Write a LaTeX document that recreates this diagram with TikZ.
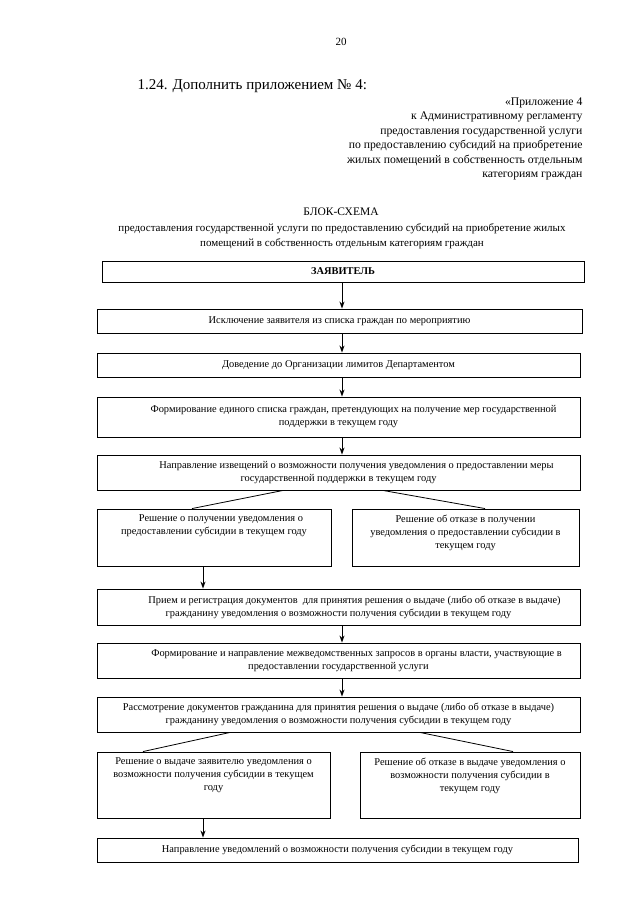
\documentclass[tikz,border=0pt]{standalone}
\usepackage{fontspec}
\setmainfont{Liberation Serif}
\usetikzlibrary{arrows.meta,calc}
\begin{document}
\begin{tikzpicture}[x=1pt,y=-1pt,
  box/.style={draw,line width=0.9pt,inner sep=0pt,minimum height=#1},
  box/.default=24pt,
  txt/.style={align=center,font=\fontsize{10.4}{13}\selectfont,inner sep=0pt},
  arr/.style={line width=0.9pt,-{Stealth[length=7pt,width=5pt]}},
  ln/.style={line width=0.8pt}]
\useasboundingbox (0,0) rectangle (640,905);
% header
\node[font=\fontsize{11}{13}\selectfont] (pg) at (341,42) {20};
\node[font=\fontsize{15}{17}\selectfont,anchor=west] (item) at (134,86) {1.24. Дополнить приложением № 4:};
\node[font=\fontsize{11.7}{14.5}\selectfont,align=right,anchor=north east] (app) at (586,94) {«Приложение 4\\к Административному регламенту\\предоставления государственной услуги\\по предоставлению субсидий на приобретение\\жилых помещений в собственность отдельным\\категориям граждан};
\node[font=\fontsize{11.5}{14}\selectfont] (ttl) at (341,212) {БЛОК-СХЕМА};
\node[font=\fontsize{11}{14.5}\selectfont,align=center] (sub) at (342,236) {предоставления государственной услуги по предоставлению субсидий на приобретение жилых\\помещений в собственность отдельным категориям граждан};
% boxes
\node[box=21pt,minimum width=482pt] (b1) at (343,271.5) {};
\node[txt,font=\fontsize{10.4}{13}\selectfont\bfseries] (t1) at (b1) {ЗАЯВИТЕЛЬ};
\node[box=24pt,minimum width=485pt] (b2) at (339.5,321) {};
\node[txt] (t2) at (b2) {Исключение заявителя из списка граждан по мероприятию};
\node[box=24pt,minimum width=483pt] (b3) at (338.5,365) {};
\node[txt] (t3) at (b3) {Доведение до Организации лимитов Департаментом};
\node[box=40pt,minimum width=483pt] (b4) at (338.5,417) {};
\node[txt] (t4) at (b4) {\hspace*{30pt}Формирование единого списка граждан, претендующих на получение мер государственной\\поддержки в текущем году};
\node[box=35pt,minimum width=483pt] (b5) at (338.5,472.5) {};
\node[txt] (t5) at (b5) {\hspace*{36pt}Направление извещений о возможности получения уведомления о предоставлении меры\\государственной поддержки в текущем году};
\node[box=57pt,minimum width=234pt] (b6) at (214,537.5) {};
\node[txt,anchor=north] (t6) at ($(b6.north)+(0,6)$) {\hspace*{14pt}Решение о получении уведомления о\\предоставлении субсидии в текущем году};
\node[box=57pt,minimum width=227pt] (b7) at (465.5,537.5) {};
\node[txt,anchor=north] (t7) at ($(b7.north)+(0,6)$) {Решение об отказе в получении\\уведомления о предоставлении субсидии в\\текущем году};
\node[box=36pt,minimum width=483pt] (b8) at (338.5,607) {};
\node[txt] (t8) at (b8) {\hspace*{32pt}Прием и регистрация документов\ \ для принятия решения о выдаче (либо об отказе в выдаче)\\гражданину уведомления о возможности получения субсидии в текущем году};
\node[box=35pt,minimum width=483pt] (b9) at (338.5,660.5) {};
\node[txt] (t9) at (b9) {\hspace*{36pt}Формирование и направление межведомственных запросов в органы власти, участвующие в\\предоставлении государственной услуги};
\node[box=35pt,minimum width=483pt] (b10) at (338.5,714.5) {};
\node[txt] (t10) at (b10) {Рассмотрение документов гражданина для принятия решения о выдаче (либо об отказе в выдаче)\\гражданину уведомления о возможности получения субсидии в текущем году};
\node[box=66pt,minimum width=233pt] (b11) at (213.5,785) {};
\node[txt,anchor=north] (t11) at ($(b11.north)+(0,6)$) {Решение о выдаче заявителю уведомления о\\возможности получения субсидии в текущем\\году};
\node[box=66pt,minimum width=220pt] (b12) at (470,785) {};
\node[txt,anchor=north] (t12) at ($(b12.north)+(0,6)$) {Решение об отказе в выдаче уведомления о\\возможности получения субсидии в\\текущем году};
\node[box=24pt,minimum width=481pt] (b13) at (337.5,850) {};
\node[txt] (t13) at (b13) {Направление уведомлений о возможности получения субсидии в текущем году};
% connector x positions
\coordinate (ax) at (342,0);
\coordinate (lx) at (203,0);
\coordinate (d1) at (283,0);
\coordinate (d2) at (192,0);
\coordinate (d3) at (383,0);
\coordinate (d4) at (485,0);
\coordinate (d5) at (230,0);
\coordinate (d6) at (143,0);
\coordinate (d7) at (420,0);
\coordinate (d8) at (513,0);
% arrows
\draw[arr] (b1.south -| ax) -- (b2.north -| ax);
\draw[arr] (b2.south -| ax) -- (b3.north -| ax);
\draw[arr] (b3.south -| ax) -- (b4.north -| ax);
\draw[arr] (b4.south -| ax) -- (b5.north -| ax);
\draw[ln] (b5.south -| d1) -- (b6.north -| d2);
\draw[ln] (b5.south -| d3) -- (b7.north -| d4);
\draw[arr] (b6.south -| lx) -- (b8.north -| lx);
\draw[arr] (b8.south -| ax) -- (b9.north -| ax);
\draw[arr] (b9.south -| ax) -- (b10.north -| ax);
\draw[ln] (b10.south -| d5) -- (b11.north -| d6);
\draw[ln] (b10.south -| d7) -- (b12.north -| d8);
\draw[arr] (b11.south -| lx) -- (b13.north -| lx);
\end{tikzpicture}
\end{document}
